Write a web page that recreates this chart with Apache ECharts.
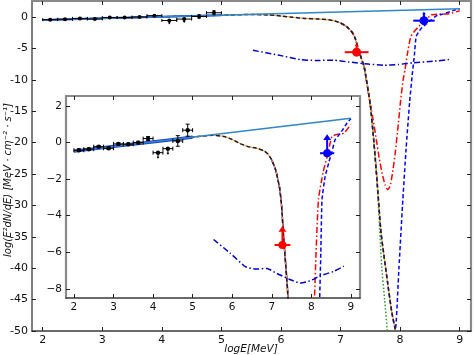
<!DOCTYPE html>
<html><head><meta charset="utf-8">
<script src="https://cdn.jsdelivr.net/npm/echarts@6/dist/echarts.min.js"></script>
<style>html,body{margin:0;padding:0;background:#fff}#c{width:474px;height:355px}</style>
</head><body><div id="c"></div>
<script>
// ---------- data ----------
const xTicks = [2, 3, 4, 5, 6, 7, 8, 9];
const mainYTicks = [-50, -45, -40, -35, -30, -25, -20, -15, -10, -5, 0];
const insetYTicks = [-8, -6, -4, -2, 0, 2];

const plX = [2.0, 9.0];
const plY = [-0.47, 1.33];

const bandX = [2.0, 3.0, 4.0, 5.0];
const bandY = [-0.47, -0.21, 0.04, 0.30];

const modelX = [2.0, 3.0, 4.0, 5.0, 5.5, 5.8, 6.0, 6.2, 6.4, 6.6, 6.8, 6.9, 7.0, 7.1, 7.2, 7.25, 7.3, 7.35, 7.4, 7.5, 7.56, 7.62, 7.68, 7.79, 7.86, 7.92];
const modelY = [-0.47, -0.21, 0.04, 0.30, 0.40, 0.33, 0.17, -0.05, -0.22, -0.30, -0.45, -0.62, -0.95, -1.5, -2.5, -3.5, -5.2, -6.6, -8.1, -14, -20, -27, -34.4, -42.3, -47, -49.8];

const blueX = [7.0, 7.1, 7.2, 7.25, 7.3, 7.35, 7.4, 7.5, 7.56, 7.62, 7.68, 7.79, 7.86, 7.92, 7.98, 8.04, 8.1, 8.16, 8.2, 8.24, 8.27, 8.35, 8.44, 8.52, 8.6, 8.73, 8.9, 9.0];
const blueY = [-0.95, -1.5, -2.5, -3.5, -5.2, -6.6, -8.1, -14, -20, -27, -34.4, -42.3, -47, -49.8, -40, -30, -21, -13.5, -9.5, -6, -3.1, -1.85, -1.1, -0.5, 0.15, 0.5, 1.06, 1.3];

const redX = [7.0, 7.1, 7.2, 7.25, 7.3, 7.35, 7.4, 7.5, 7.55, 7.6, 7.65, 7.7, 7.75, 7.79, 7.83, 7.87, 7.92, 7.97, 8.01, 8.05, 8.08, 8.12, 8.18, 8.3, 8.4, 8.52, 8.65, 8.82, 9.0];
const redY = [-0.95, -1.5, -2.5, -3.5, -5.2, -6.6, -8.1, -14, -16.5, -19.5, -22.5, -25, -26.8, -27.5, -27, -25, -21.5, -17, -13.2, -10, -8.5, -6, -3.1, -1.6, -0.77, 0.33, 0.45, 0.51, 1.0];

const greenX = [7.4, 7.5, 7.6, 7.69, 7.74, 7.79];
const greenY = [-8.1, -14, -24, -39.7, -45, -50.5];

const sensX = [5.53, 5.95, 6.33, 6.58, 6.88, 7.13, 7.47, 7.72, 7.97, 8.23, 8.56, 8.82];
const sensY = [-5.3, -6.05, -6.78, -6.92, -6.88, -7.16, -7.5, -7.68, -7.56, -7.28, -7.05, -6.76];

const ptX = [2.125, 2.375, 2.625, 2.875, 3.125, 3.375, 3.625, 3.875, 4.125, 4.375, 4.625, 4.875];
const ptY = [-0.42, -0.36, -0.22, -0.31, -0.07, -0.09, 0.0, 0.22, -0.55, -0.33, 0.09, 0.68];
const ptXerr = [0.125, 0.125, 0.125, 0.125, 0.125, 0.125, 0.125, 0.125, 0.125, 0.125, 0.125, 0.125];
const ptYerr = [0.07, 0.06, 0.06, 0.07, 0.07, 0.06, 0.07, 0.11, 0, 0, 0.29, 0.33];
const ptLim = [0, 0, 0, 0, 0, 0, 0, 0, -1, -1, 0, 0];

const redPtX = [7.27], redPtY = [-5.6], redPtXerr = [0.2], redPtYerr = [0], redPtLim = [1];
const bluePtX = [8.4], bluePtY = [-0.58], bluePtXerr = [0.18], bluePtYerr = [0], bluePtLim = [1];

// ---------- build ----------
const FONT = 'DejaVu Sans';
function zip(xs, ys) { return xs.map((x, i) => [x, ys[i]]); }
function pts(xs, ys, xe, ye, lim) { return xs.map((x, i) => [x, ys[i], xe[i], ye[i], lim[i]]); }

function line(xs, ys, ax, color, width, type, z) {
  return {
    type: 'line', xAxisIndex: ax, yAxisIndex: ax, data: zip(xs, ys),
    showSymbol: false, symbol: 'none', smooth: 0.15, clip: true, z: z,
    lineStyle: { color: color, width: width, type: type }, silent: true, animation: false
  };
}

function errSeries(data, ax, color, r, lw, arrowLen, cap) {
  return {
    type: 'custom', xAxisIndex: ax, yAxisIndex: ax, data: data, z: 20, silent: true, animation: false,
    renderItem: function (params, api) {
      const x = api.value(0), y = api.value(1), xe = api.value(2), ye = api.value(3), lim = api.value(4);
      const c = api.coord([x, y]);
      const l = api.coord([x - xe, y]), rr = api.coord([x + xe, y]);
      const st = { stroke: color, lineWidth: lw };
      const ch = [];
      ch.push({ type: 'line', shape: { x1: l[0], y1: c[1], x2: rr[0], y2: c[1] }, style: st });
      if (cap) {
        ch.push({ type: 'line', shape: { x1: l[0], y1: c[1] - cap, x2: l[0], y2: c[1] + cap }, style: st });
        ch.push({ type: 'line', shape: { x1: rr[0], y1: c[1] - cap, x2: rr[0], y2: c[1] + cap }, style: st });
      }
      if (ye > 0) {
        const t = api.coord([x, y + ye]), b = api.coord([x, y - ye]);
        ch.push({ type: 'line', shape: { x1: c[0], y1: t[1], x2: c[0], y2: b[1] }, style: st });
        if (cap) {
          ch.push({ type: 'line', shape: { x1: c[0] - cap, y1: t[1], x2: c[0] + cap, y2: t[1] }, style: st });
          ch.push({ type: 'line', shape: { x1: c[0] - cap, y1: b[1], x2: c[0] + cap, y2: b[1] }, style: st });
        }
      }
      if (lim !== 0) {
        const dir = lim > 0 ? -1 : 1;
        const ey = c[1] + dir * arrowLen;
        const hs = Math.max(2, arrowLen * 0.3);
        ch.push({ type: 'line', shape: { x1: c[0], y1: c[1], x2: c[0], y2: ey - dir * hs * 0.5 }, style: st });
        ch.push({ type: 'polygon', shape: { points: [[c[0], ey], [c[0] - hs * 0.7, ey - dir * hs], [c[0] + hs * 0.7, ey - dir * hs]] }, style: { fill: color } });
      }
      ch.push({ type: 'circle', shape: { cx: c[0], cy: c[1], r: r }, style: { fill: color } });
      return { type: 'group', children: ch };
    }
  };
}

const blackData = pts(ptX, ptY, ptXerr, ptYerr, ptLim);
const redData = pts(redPtX, redPtY, redPtXerr, redPtYerr, redPtLim);
const blueData = pts(bluePtX, bluePtY, bluePtXerr, bluePtYerr, bluePtLim);

function curveSet(ax, inset) {
  return [
    line(redX, redY, ax, '#ff0000', 1.5, [6, 2.5, 1.5, 2.5], 3),
    line(greenX, greenY, ax, '#2a9a2a', 1.5, [1.5, 2], 3),
    line(blueX, blueY, ax, '#0000ff', 1.5, [4, 2.5], 4),
    line(modelX, modelY, ax, '#ffa030', 1.1, 'solid', 5),
    line(modelX, modelY, ax, '#1b1b33', 1.5, [4, 2.5], 6),
    line(bandX, bandY, ax, '#1f3fc8', inset ? 3.2 : 2, 'solid', 7),
    line(plX, plY, ax, '#2f86c8', 1.5, 'solid', 8),
    line(sensX, sensY, ax, '#0000cc', 1.5, [6, 2.5, 1.5, 2.5], 8),
    errSeries(blackData, ax, '#000', inset ? 2.2 : 2, 1, inset ? 6 : 4, inset ? 2 : 1.5),
    errSeries(redData, ax, '#ff0000', inset ? 4 : 4.5, 2, inset ? 19 : 9, 0),
    errSeries(blueData, ax, '#0000ff', inset ? 4 : 4.5, 2, inset ? 19 : 9, 0)
  ];
}

const grayLine = { lineStyle: { color: '#8a8a8a', width: 2.2 } };
const darkLine = { lineStyle: { color: '#3a3a3a', width: 1.5 } };
function tick(vals, len) { return { show: true, inside: true, length: len, customValues: vals, lineStyle: { color: '#222', width: 1 } }; }

function xAx(grid, pos, min, max, show, fs, axisLine) {
  return {
    type: 'value', gridIndex: grid, position: pos, min: min, max: max,
    axisLine: Object.assign({ show: true, onZero: false }, axisLine),
    axisTick: tick(xTicks, 4),
    axisLabel: { show: show, customValues: xTicks, margin: 4, color: '#111', fontFamily: FONT, fontSize: fs },
    splitLine: { show: false }
  };
}
function yAx(grid, pos, min, max, ticks, show, fs, axisLine, fmt) {
  return {
    type: 'value', gridIndex: grid, position: pos, min: min, max: max,
    axisLine: Object.assign({ show: true, onZero: false }, axisLine),
    axisTick: tick(ticks, 4),
    axisLabel: { show: show, customValues: ticks, margin: 4, color: '#111', fontFamily: FONT, fontSize: fs, formatter: fmt },
    splitLine: { show: false }
  };
}

const option = {
  animation: false,
  backgroundColor: '#fff',
  grid: [
    { left: 32, right: 3, top: 1, bottom: 24, containLabel: false },
    { left: 66, right: 114, top: 96, bottom: 57, containLabel: false, show: true, backgroundColor: '#fff', borderWidth: 0, z: 10 }
  ],
  xAxis: [
    xAx(0, 'bottom', 1.82, 9.19, true, 11, darkLine),
    xAx(0, 'top', 1.82, 9.19, false, 11, grayLine),
    Object.assign(xAx(1, 'bottom', 1.8, 9.23, true, 10.5, darkLine), { z: 12 }),
    Object.assign(xAx(1, 'top', 1.8, 9.23, false, 10.5, grayLine), { z: 12 })
  ],
  yAxis: [
    yAx(0, 'left', -50, 2.55, mainYTicks, true, 11, { lineStyle: { color: '#555', width: 1.5 } }, v => String(v)),
    yAx(0, 'right', -50, 2.55, mainYTicks, false, 11, grayLine),
    Object.assign(yAx(1, 'left', -8.5, 2.55, insetYTicks, true, 10.5, grayLine, v => (v < 0 ? '\u2212' : '') + Math.abs(v)), { z: 12 }),
    Object.assign(yAx(1, 'right', -8.5, 2.55, insetYTicks, false, 10.5, grayLine), { z: 12 })
  ],
  series: [].concat(curveSet(0, false), curveSet(2, true).map(s => Object.assign(s, { z: (s.z || 2) + 20 }))),
  graphic: [
    { type: 'text', x: 8, y: 180, rotation: Math.PI / 2, style: { text: 'log(E\u00B2dN/dE) [MeV \u00B7 cm\u207B\u00B2 \u00B7 s\u207B\u00B9]', font: 'italic 10px "DejaVu Sans"', fill: '#111', align: 'center', verticalAlign: 'middle' } },
    { type: 'text', x: 251, y: 349, style: { text: 'logE[MeV]', font: 'italic 10.5px "DejaVu Sans"', fill: '#111', align: 'center', verticalAlign: 'middle' } }
  ]
};
const chart = echarts.init(document.getElementById('c'));
chart.setOption(option);
</script>
</body></html>
